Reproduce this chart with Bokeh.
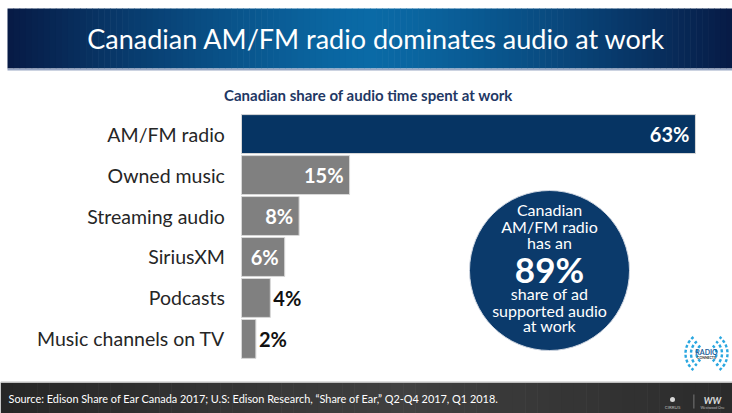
from bokeh.plotting import figure
from bokeh.models import Range1d, ColumnDataSource
from bokeh.core.properties import value
from bokeh.embed import file_html
from bokeh.resources import INLINE

# ---- data ----
categories = ["AM/FM radio", "Owned music", "Streaming audio", "SiriusXM",
              "Podcasts", "Music channels on TV"]
shares = [63, 15, 8, 6, 4, 2]
ad_supported_share = 89

title = "Canadian AM/FM radio dominates audio at work"
subtitle = "Canadian share of audio time spent at work"
callout_lines_top = ["Canadian", "AM/FM radio", "has an"]
callout_lines_bottom = ["share of ad", "supported audio", "at work"]
source_note = ("Source: Edison Share of Ear Canada 2017; U.S: Edison Research, "
               "\u201cShare of Ear,\u201d Q2-Q4 2017, Q1 2018.")

W, H = 732, 413
FONT = "Lato"
NAVY = "#063463"
GREY = "#808080"

p = figure(width=W, height=H, output_backend="svg", toolbar_location=None,
           x_axis_type=None, y_axis_type=None, min_border=0,
           x_range=Range1d(-33.44, 68.14), y_range=Range1d(6.82, -3.26))
p.outline_line_color = None
p.grid.visible = False
p.background_fill_color = "white"
p.border_fill_color = "white"

# page-space ranges for the slide furniture
p.extra_x_ranges["px"] = Range1d(0, W)
p.extra_y_ranges["px"] = Range1d(H, 0)
PX = dict(x_range_name="px", y_range_name="px")


def mix(c1, c2, t):
    a = [int(c1[i:i + 2], 16) for i in (1, 3, 5)]
    b = [int(c2[i:i + 2], 16) for i in (1, 3, 5)]
    return "#%02x%02x%02x" % tuple(round(a[k] + (b[k] - a[k]) * t) for k in range(3))


# ---- title band with a horizontal blue glow ----
band_l, band_r, band_t, band_b = 7, W, 8, 68
n = 120
step = (band_r - band_l) / n
cx = (band_l + band_r) / 2
lefts, rights, cols = [], [], []
for i in range(n):
    x0 = band_l + i * step
    d = abs(x0 + step / 2 - cx) / ((band_r - band_l) / 2)
    lefts.append(x0)
    rights.append(x0 + step + 0.6)
    cols.append(mix("#0a6aa6", "#071a45", min(1, d ** 1.3)))
p.quad(left=lefts, right=rights, top=[band_t] * n, bottom=[band_b] * n,
       fill_color=cols, line_color=None, **PX)
p.quad(left=[band_l], right=[band_r], top=[band_b], bottom=[band_b + 2],
       fill_color="#9aa8c4", line_color=None, **PX)
p.text(x=[376], y=[38], text=[title], text_color="white",
       text_font=value(FONT), text_font_size="27px",
       text_align="center", text_baseline="middle", **PX)

# ---- subtitle ----
p.text(x=[368], y=[94], text=[subtitle], text_color="#1f3864",
       text_font=value(FONT), text_font_size="15px", text_font_style="bold",
       text_align="center", text_baseline="middle", **PX)

# ---- bars ----
rows = list(range(len(categories)))
bar_colors = [NAVY if i == 0 else GREY for i in rows]
inside = [s >= 6 for s in shares]
src = ColumnDataSource(dict(
    y=rows, share=shares, cat=categories, color=bar_colors,
    label=[f"{s}%" for s in shares],
    align=["right" if f else "left" for f in inside],
    xoff=[-6 if f else 3 for f in inside],
    lcolor=["white" if f else "#111111" for f in inside],
))
p.hbar(y="y", left=0, right="share", height=0.95, fill_color="color",
       line_color="#d8d8d8", line_width=1, source=src)

p.text(x="share", y="y", text="label", x_offset="xoff", text_align="align",
       text_color="lcolor", text_font=value(FONT), text_font_size="20px",
       text_font_style="bold", text_baseline="middle", source=src)

p.text(x=-2.3, y="y", text="cat", text_align="right", text_baseline="middle",
       text_color="#262626", text_font=value(FONT), text_font_size="19.5px",
       source=src)

# ---- call-out bubble ----
bx, by = 549, 270
p.ellipse(x=[bx], y=[by], width=[160], height=[160], fill_color="#0b3a6b",
          line_color="#d0d7e2", line_width=1, **PX)
p.text(x=[bx] * 3, y=[209, 225.5, 242], text=callout_lines_top,
       text_color="white", text_font=value(FONT), text_font_size="16px",
       text_align="center", text_baseline="middle", **PX)
p.text(x=[bx], y=[268], text=[f"{ad_supported_share}%"], text_color="white",
       text_font=value(FONT), text_font_size="35px", text_font_style="bold",
       text_align="center", text_baseline="middle", **PX)
p.text(x=[bx] * 3, y=[293, 309.5, 325], text=callout_lines_bottom,
       text_color="white", text_font=value(FONT), text_font_size="16px",
       text_align="center", text_baseline="middle", **PX)

# ---- Radio Connects badge ----
lx, ly = 706, 353
for r in (10, 15.5, 21):
    p.arc(x=[lx], y=[ly], radius=r, radius_units="screen",
          start_angle=-0.9, end_angle=0.9, direction="anticlock",
          line_color="#2aa7e0", line_width=2.4, line_dash="3 2", **PX)
    p.arc(x=[lx], y=[ly], radius=r, radius_units="screen",
          start_angle=3.14159 - 0.9, end_angle=3.14159 + 0.9, direction="anticlock",
          line_color="#2aa7e0", line_width=2.4, line_dash="3 2", **PX)
p.text(x=[lx], y=[ly - 1.5], text=["RADIO"], text_color="#1d5f9a",
       text_font=value(FONT), text_font_size="7px", text_font_style="bold",
       text_align="center", text_baseline="middle", **PX)
p.text(x=[lx], y=[ly + 4], text=["CONNECTS"], text_color="#333333",
       text_font=value(FONT), text_font_size="3.5px", text_font_style="bold",
       text_align="center", text_baseline="middle", **PX)

# ---- footer strip ----
fn = 60
fstep = W / fn
fl, fr, fc = [], [], []
for i in range(fn):
    x0 = i * fstep
    t = abs(x0 + fstep / 2 - W * 0.55) / (W * 0.55)
    fl.append(x0)
    fr.append(x0 + fstep + 0.6)
    fc.append(mix("#404040", "#262626", min(1, t)))
p.quad(left=fl, right=fr, top=[382] * fn, bottom=[H] * fn,
       fill_color=fc, line_color=None, **PX)
p.quad(left=[0], right=[W], top=[381], bottom=[382.5],
       fill_color="#bdbdbd", line_color=None, **PX)
p.text(x=[8], y=[398], text=[source_note], text_color="white",
       text_font=value(FONT), text_font_size="10.9px",
       text_align="left", text_baseline="middle", **PX)

# partner marks in the footer
p.scatter(x=[672], y=[399], size=5, marker="circle", fill_color="#d8d8d8",
          line_color=None, **PX)
p.text(x=[672], y=[407], text=["CIRRUS"], text_color="#bbbbbb",
       text_font=value(FONT), text_font_size="4.5px",
       text_align="center", text_baseline="middle", **PX)
p.quad(left=[693], right=[693.8], top=[394], bottom=[408],
       fill_color="#8a8a8a", line_color=None, **PX)
p.text(x=[712], y=[400], text=["WW"], text_color="#dddddd",
       text_font=value(FONT), text_font_size="9px", text_font_style="bold italic",
       text_align="center", text_baseline="middle", **PX)
p.text(x=[712], y=[407.5], text=["Westwood One"], text_color="#bbbbbb",
       text_font=value(FONT), text_font_size="3.5px",
       text_align="center", text_baseline="middle", **PX)

open("out.html", "w").write(file_html(p, INLINE))
